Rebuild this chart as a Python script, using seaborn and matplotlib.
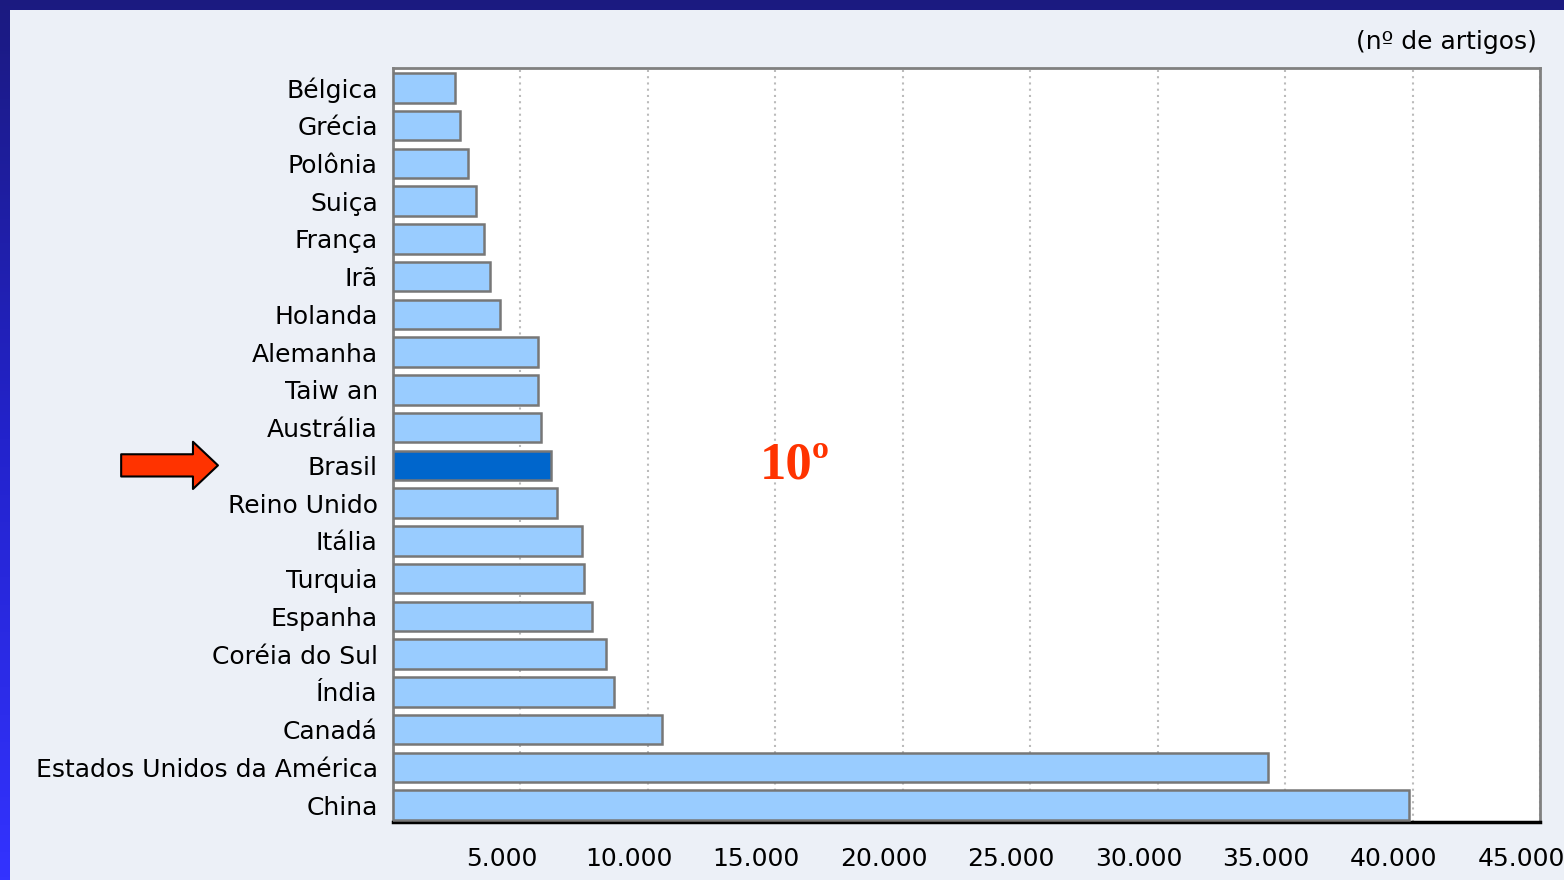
import numpy as np
import seaborn as sns
import matplotlib.pyplot as plt
from matplotlib.transforms import ScaledTranslation
from matplotlib.patches import Rectangle
from matplotlib.colors import LinearSegmentedColormap

paises = ['Bélgica', 'Grécia', 'Polônia', 'Suiça', 'França', 'Irã', 'Holanda',
          'Alemanha', 'Taiw an', 'Austrália', 'Brasil', 'Reino Unido', 'Itália',
          'Turquia', 'Espanha', 'Coréia do Sul', 'Índia', 'Canadá',
          'Estados Unidos da América', 'China']
artigos = [2430, 2630, 2940, 3260, 3570, 3810, 4200, 5690, 5690, 5810, 6200,
           6430, 7410, 7490, 7810, 8360, 8670, 10550, 34330, 39860]
destaque = 'Brasil'
ticks_x = [5000, 10000, 15000, 20000, 25000, 30000, 35000, 40000, 45000]
tick_labels = ['5.000', '10.000', '15.000', '20.000', '25.000', '30.000',
               '35.000', '40.000', '45.000']

cores = ['#0066CC' if p == destaque else '#99CCFF' for p in paises]

sns.set_style('white')
plt.rcParams['font.family'] = ['DejaVu Sans']
plt.rcParams['text.color'] = 'black'
plt.rcParams['xtick.color'] = 'black'
plt.rcParams['ytick.color'] = 'black'

fig = plt.figure(figsize=(15.64, 8.8), dpi=100)

# fundo: faixa azul escura em cima, faixa em degrade na esquerda
bg = fig.add_axes([0, 0, 1, 1], zorder=-10)
grad = np.linspace(0, 1, 256).reshape(-1, 1)
cmap = LinearSegmentedColormap.from_list('fundo', ['#1B1A80', '#2323CC', '#3333FF'])
bg.imshow(grad, aspect='auto', cmap=cmap, extent=[0, 1, 0, 1], origin='upper')
bg.add_patch(Rectangle((10 / 1564, 0), 1, 1 - 10 / 880, color='#ECF0F7', lw=0))
bg.set_xlim(0, 1)
bg.set_ylim(0, 1)
bg.axis('off')

ax = fig.add_axes([393 / 1564, 1 - 822 / 880, 1147 / 1564, 754 / 880])
ax.set_facecolor('white')

sns.barplot(x=artigos, y=paises, hue=paises, palette=cores, legend=False,
            orient='h', width=0.78, edgecolor='#777777', linewidth=1.8,
            saturation=1, ax=ax, zorder=3)

ax.set_xlim(0, 45000)
ax.set_ylim(19.45, -0.53)
ax.set_xticks(ticks_x)
ax.set_xticklabels(tick_labels, fontsize=18)
ax.tick_params(axis='x', length=7, width=1.5, color='black', pad=11)
ax.tick_params(axis='y', length=0, pad=11, labelsize=18)
for lbl in ax.get_xticklabels():
    lbl.set_transform(lbl.get_transform() + ScaledTranslation(-0.19, 0, fig.dpi_scale_trans))

ax.grid(axis='x', color='#BBBBBB', linestyle=(0, (1, 2)), linewidth=1.5, zorder=0)
ax.grid(axis='y', visible=False)
for s in ['top', 'right', 'left']:
    ax.spines[s].set_color('#808080')
    ax.spines[s].set_linewidth(2)
ax.spines['bottom'].set_color('black')
ax.spines['bottom'].set_linewidth(2.5)
ax.set_xlabel('')
ax.set_ylabel('')

ax.text(0.9975, 1.035, '(nº de artigos)', transform=ax.transAxes, ha='right',
        va='center', fontsize=18, color='black')

idx = paises.index(destaque)
ax.annotate('', xy=(-0.1526, idx), xycoords=('axes fraction', 'data'),
            xytext=(-0.237, idx), textcoords=('axes fraction', 'data'),
            arrowprops=dict(arrowstyle='simple,head_length=0.9,head_width=1.7,tail_width=0.8',
                            mutation_scale=20, fc='#FF3300', ec='black', lw=1.5,
                            shrinkA=0, shrinkB=0),
            annotation_clip=False)

ax.text(14400, idx, '10º', ha='left', va='center', fontsize=38,
        fontweight='bold', color='#FF3300', family='Liberation Serif', zorder=5)

fig.savefig('out.png', dpi=100)
